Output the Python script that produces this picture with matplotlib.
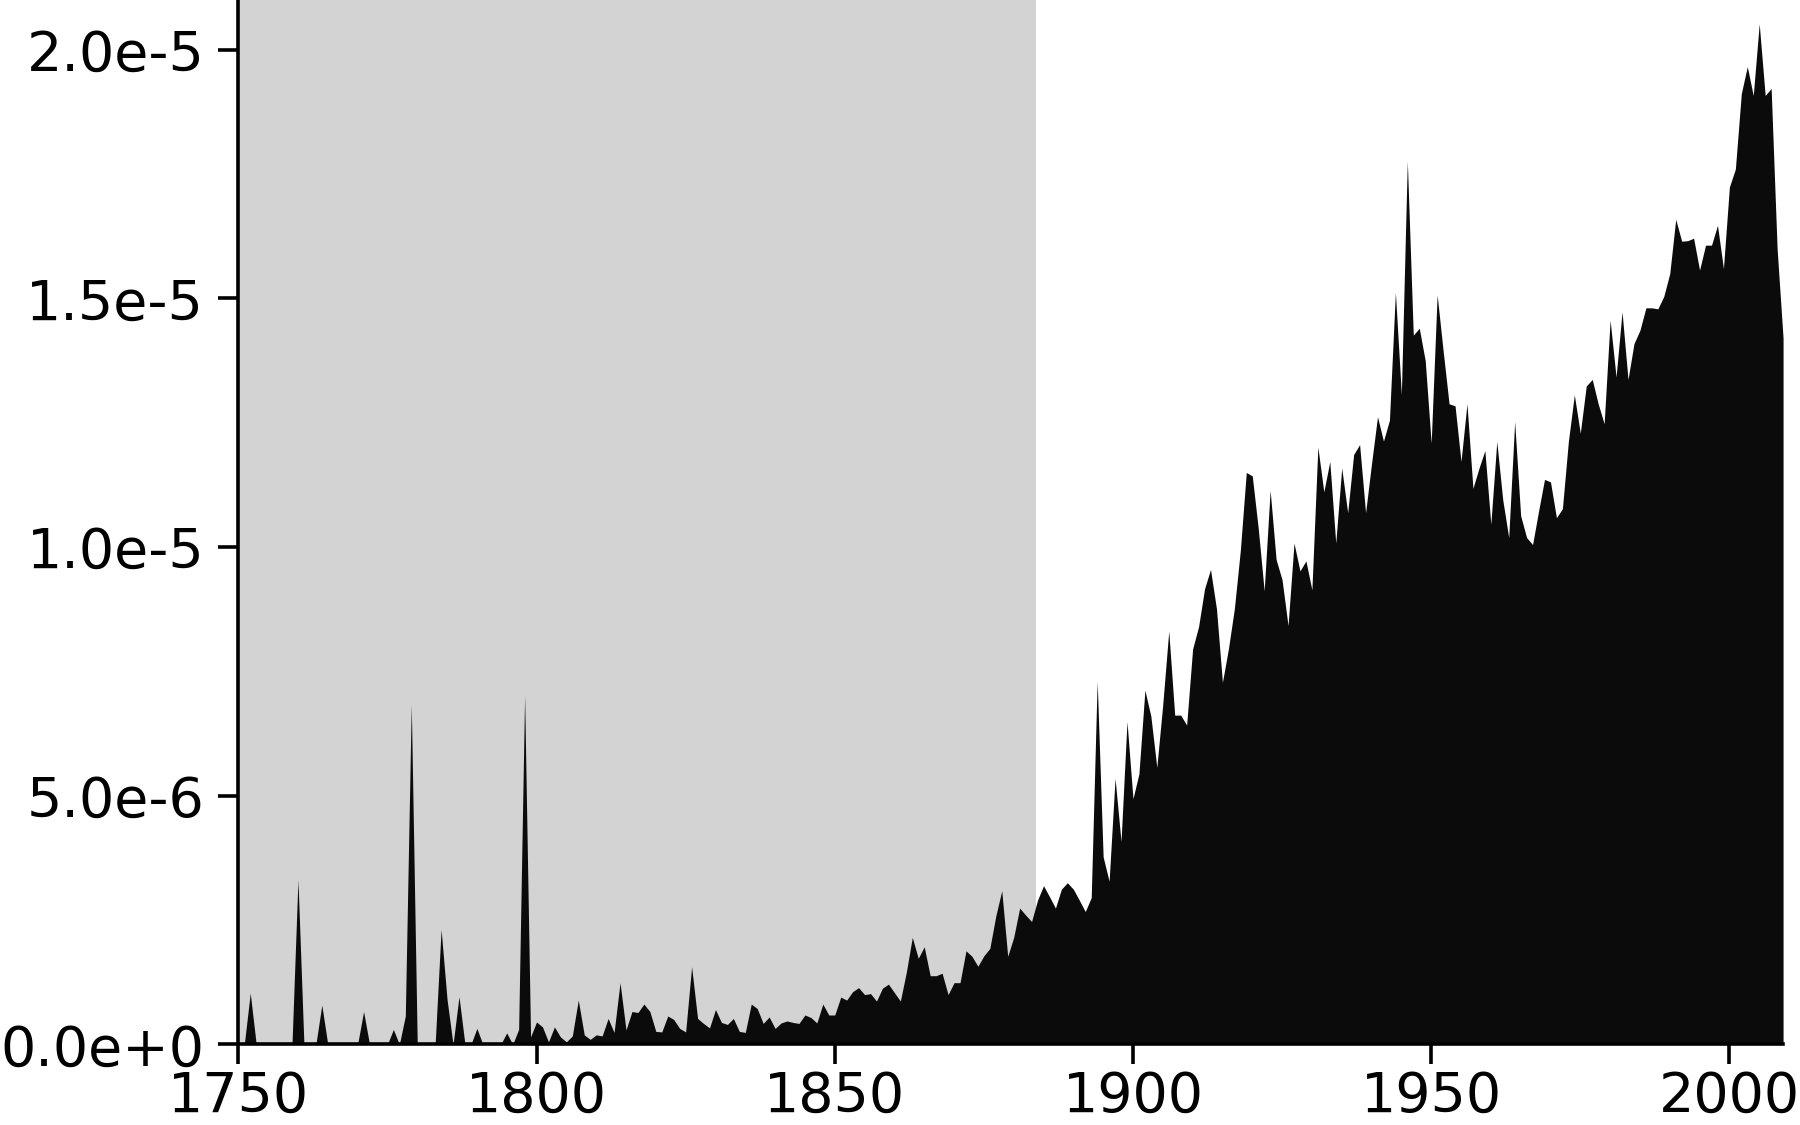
import numpy as np
import matplotlib
matplotlib.use("Agg")
import matplotlib.pyplot as plt
from matplotlib.ticker import FuncFormatter

# Dane: roczne wartości (w jednostkach 1e-6), lata 1750-2009
years = np.arange(1750, 2010)
values_e6 = [
    # 1750-1799
    0, 0, 1.03, 0, 0, 0, 0, 0, 0, 0,
    3.31, 0, 0, 0, 0.79, 0, 0, 0, 0, 0,
    0, 0.66, 0, 0, 0, 0, 0.30, 0, 0.57, 6.83,
    0, 0, 0, 0, 2.31, 0.9, 0, 0.96, 0, 0,
    0.32, 0, 0, 0, 0, 0.23, 0, 0.30, 7.01, 0.15,
    # 1800-1849
    0.45, 0.35, 0.05, 0.35, 0.15, 0.05, 0.17, 0.89, 0.19, 0.10,
    0.19, 0.17, 0.52, 0.24, 1.24, 0.29, 0.66, 0.64, 0.81, 0.66,
    0.26, 0.25, 0.57, 0.50, 0.32, 0.25, 1.56, 0.52, 0.42, 0.33,
    0.70, 0.44, 0.40, 0.52, 0.26, 0.24, 0.81, 0.72, 0.42, 0.55,
    0.32, 0.43, 0.47, 0.44, 0.42, 0.59, 0.54, 0.43, 0.81, 0.59,
    # 1850-1899
    0.59, 0.95, 0.89, 1.06, 1.14, 1.00, 1.02, 0.87, 1.13, 1.21,
    1.04, 0.87, 1.45, 2.15, 1.73, 1.96, 1.38, 1.38, 1.43, 1.00,
    1.24, 1.24, 1.88, 1.77, 1.57, 1.78, 1.93, 2.58, 3.09, 1.77,
    2.15, 2.74, 2.60, 2.47, 2.90, 3.19, 2.97, 2.74, 3.12, 3.25,
    3.12, 2.90, 2.67, 2.95, 7.30, 3.77, 3.28, 5.35, 4.08, 6.49,
    # 1900-1949
    4.94, 5.44, 7.12, 6.60, 5.57, 6.84, 8.31, 6.62, 6.62, 6.42,
    7.95, 8.40, 9.16, 9.55, 8.76, 7.28, 7.95, 8.76, 9.93, 11.50,
    11.43, 10.38, 9.12, 11.14, 9.75, 9.34, 8.42, 10.08, 9.52, 9.72,
    9.14, 12.01, 11.11, 11.72, 10.08, 11.59, 10.69, 11.86, 12.06, 10.69,
    11.68, 12.62, 12.13, 12.55, 15.12, 13.07, 17.76, 14.26, 14.40, 13.75,
    # 1950-2009
    12.09, 15.07, 13.95, 12.88, 12.84, 11.72, 12.88, 11.18, 11.58, 11.94,
    10.46, 12.12, 10.95, 10.19, 12.52, 10.63, 10.19, 10.05, 10.72, 11.36,
    11.31, 10.59, 10.77, 12.12, 13.06, 12.29, 13.24, 13.37, 12.88, 12.48,
    14.56, 13.42, 14.73, 13.37, 14.09, 14.36, 14.81, 14.81, 14.79, 15.04,
    15.5, 16.59, 16.15, 16.16, 16.21, 15.57, 16.07, 16.07, 16.47, 15.6,
    17.24, 17.6, 19.12, 19.66, 19.08, 20.52, 19.08, 19.22, 16.0, 14.2,
]
values = np.array(values_e6) * 1e-6

# Zakres zacieniowany
shade_start, shade_end = 1750, 1883.7
x_ticks = [1750, 1800, 1850, 1900, 1950, 2000]
y_ticks = [0, 5e-6, 1e-5, 1.5e-5, 2e-5]


def sci_fmt(v, pos):
    mant, exp = f"{v:.1e}".split("e")
    return f"{mant}e{exp[0]}{int(exp[1:])}"


fig = plt.figure(figsize=(18, 11.25), dpi=100)
ax = fig.add_axes([0.1324, 0.0717, 0.9906 - 0.1324, 1.0 - 0.0717])

ax.axvspan(shade_start, shade_end, color="#d3d3d3", lw=0, zorder=0)
ax.fill_between(years, values, color="#0b0b0b", lw=0, zorder=1)

ax.set_xlim(1750, 2009)
ax.set_ylim(0, 2.1e-5)
ax.set_xticks(x_ticks)
ax.set_yticks(y_ticks)
ax.yaxis.set_major_formatter(FuncFormatter(sci_fmt))

for side in ["top", "right"]:
    ax.spines[side].set_visible(False)
for side in ["left", "bottom"]:
    ax.spines[side].set_linewidth(2.6)
    ax.spines[side].set_zorder(3)

ax.tick_params(axis="both", direction="out", length=14.5, width=2.6,
               labelsize=40, colors="black")
ax.tick_params(axis="y", pad=10)
ax.tick_params(axis="x", pad=3.5)

fig.savefig("out.png", dpi=100)
